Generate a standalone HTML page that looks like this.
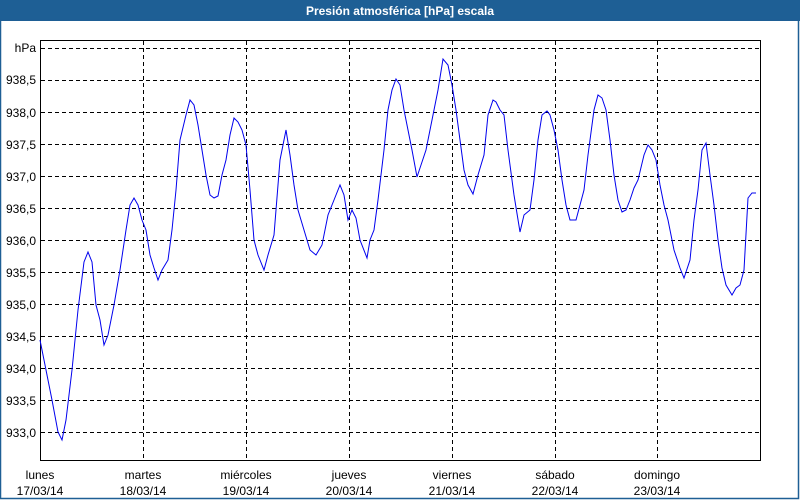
<!DOCTYPE html>
<html><head><meta charset="utf-8"><style>
body{margin:0;width:800px;height:500px;overflow:hidden;background:#fff;font-family:"Liberation Sans",sans-serif}
</style></head><body>
<svg width="800" height="500" xmlns="http://www.w3.org/2000/svg" style="display:block">
<rect x="0" y="0" width="800" height="500" fill="#fff"/>
<rect x="0" y="0" width="800" height="21" fill="#1e5f95"/>
<rect x="0.5" y="20" width="798" height="478.5" fill="none" stroke="#1e5f95" stroke-width="1.5"/>
<text x="400" y="15" fill="#fff" font-size="12" font-weight="bold" text-anchor="middle" font-family="Liberation Sans">Presión atmosférica [hPa] escala</text>
<g stroke="#000" stroke-dasharray="4,3" stroke-width="1">
<line x1="41" x2="760" y1="48.5" y2="48.5"/>
<line x1="41" x2="760" y1="80.5" y2="80.5"/>
<line x1="41" x2="760" y1="112.5" y2="112.5"/>
<line x1="41" x2="760" y1="144.5" y2="144.5"/>
<line x1="41" x2="760" y1="176.5" y2="176.5"/>
<line x1="41" x2="760" y1="208.5" y2="208.5"/>
<line x1="41" x2="760" y1="240.5" y2="240.5"/>
<line x1="41" x2="760" y1="272.5" y2="272.5"/>
<line x1="41" x2="760" y1="304.5" y2="304.5"/>
<line x1="41" x2="760" y1="336.5" y2="336.5"/>
<line x1="41" x2="760" y1="368.5" y2="368.5"/>
<line x1="41" x2="760" y1="400.5" y2="400.5"/>
<line x1="41" x2="760" y1="432.5" y2="432.5"/>
<line x1="143.5" x2="143.5" y1="41" y2="460"/>
<line x1="246.5" x2="246.5" y1="41" y2="460"/>
<line x1="349.5" x2="349.5" y1="41" y2="460"/>
<line x1="452.5" x2="452.5" y1="41" y2="460"/>
<line x1="555.5" x2="555.5" y1="41" y2="460"/>
<line x1="657.5" x2="657.5" y1="41" y2="460"/>
</g>
<rect x="40.5" y="40.5" width="720" height="420" fill="none" stroke="#000" stroke-width="1"/>
<g font-size="12" fill="#000" text-anchor="end" font-family="Liberation Sans">
<text x="36" y="52">hPa</text>
<text x="36" y="84">938,5</text>
<text x="36" y="117">938,0</text>
<text x="36" y="149">937,5</text>
<text x="36" y="181">937,0</text>
<text x="36" y="213">936,5</text>
<text x="36" y="245">936,0</text>
<text x="36" y="277">935,5</text>
<text x="36" y="309">935,0</text>
<text x="36" y="341">934,5</text>
<text x="36" y="373">934,0</text>
<text x="36" y="405">933,5</text>
<text x="36" y="437">933,0</text>
</g>
<g font-size="12" fill="#000" text-anchor="middle" font-family="Liberation Sans">
<text x="40" y="479">lunes</text><text x="40" y="495">17/03/14</text>
<text x="143" y="479">martes</text><text x="143" y="495">18/03/14</text>
<text x="246" y="479">miércoles</text><text x="246" y="495">19/03/14</text>
<text x="349" y="479">jueves</text><text x="349" y="495">20/03/14</text>
<text x="452" y="479">viernes</text><text x="452" y="495">21/03/14</text>
<text x="555" y="479">sábado</text><text x="555" y="495">22/03/14</text>
<text x="657" y="479">domingo</text><text x="657" y="495">23/03/14</text>
</g>
<polyline fill="none" stroke="#0000ee" stroke-width="1" points="40,340 46,370 52,400 58,432 62,440 66,420 72,370 78,310 84,262 88,252 92,262 96,305 100,320 104,345 108,335 114,305 120,270 126,230 130,205 134,198 138,205 142,220 146,230 150,255 154,268 158,280 162,270 168,260 172,230 176,190 180,140 186,115 190,100 194,105 198,125 202,150 206,175 210,195 214,198 218,196 222,175 226,160 230,135 234,118 238,122 242,130 246,145 250,190 254,240 258,255 264,270 268,255 274,235 280,160 286,130 290,155 294,185 298,210 304,230 310,250 316,255 322,245 328,215 334,200 340,185 344,195 348,220 352,210 356,218 360,240 367,258 370,240 374,230 378,200 384,150 388,110 392,90 396,79 400,85 404,110 408,130 412,150 417,177 420,168 426,150 432,120 438,90 443,59 448,65 452,85 456,110 460,140 464,170 468,185 473,194 478,175 484,155 488,115 493,100 496,102 500,110 504,115 508,150 514,195 520,232 524,215 530,210 534,180 538,140 542,115 547,111 550,115 554,130 558,150 562,180 566,205 570,220 576,220 580,205 584,190 588,155 594,110 598,95 602,98 606,110 610,140 614,175 618,200 622,212 626,210 630,200 634,188 638,180 644,155 648,145 652,150 656,160 660,185 664,205 668,220 674,250 680,268 684,278 690,260 694,220 698,190 702,150 706,143 710,175 714,205 718,240 722,268 726,285 732,295 736,288 740,285 744,270 748,198 752,193 756,193"/>
</svg>
</body></html>
